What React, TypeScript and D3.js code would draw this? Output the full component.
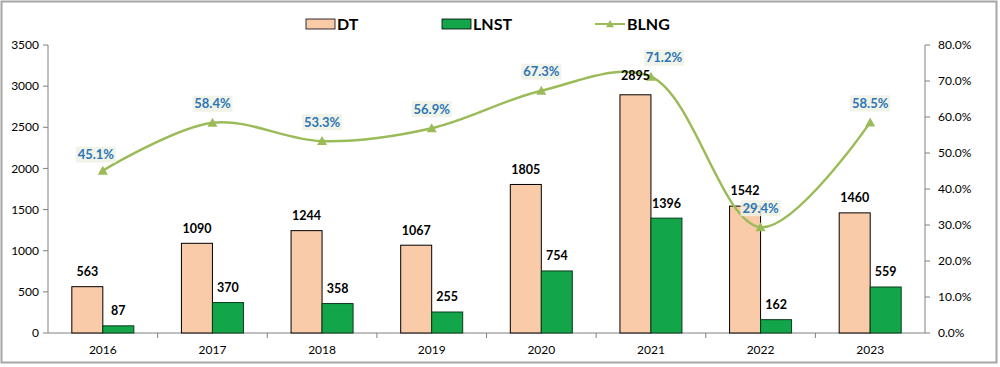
import React from 'react';
import * as d3 from 'd3';

// values
const years = ['2016', '2017', '2018', '2019', '2020', '2021', '2022', '2023'];
const dtValues = [563, 1090, 1244, 1067, 1805, 2895, 1542, 1460];
const lnstValues = [87, 370, 358, 255, 754, 1396, 162, 559];
const blngValues = [45.1, 58.4, 53.3, 56.9, 67.3, 71.2, 29.4, 58.5];
const leftTicks = [0, 500, 1000, 1500, 2000, 2500, 3000, 3500];
const rightTicks = [0, 10, 20, 30, 40, 50, 60, 70, 80];
// small nudges of the percent labels (relative to their points)
const pctLabelDx = [-7, 0, 0, 0, 0, 13, 0, 0];

const W = 1000;
const H = 367;
const margin = { top: 45, right: 75, bottom: 34, left: 48 };
const FONT = 'Lato, "Open Sans", sans-serif';

const DT_COLOR = '#FACBA8';
const LNST_COLOR = '#12A54A';
const LINE_COLOR = '#9BBB59';
const PCT_COLOR = '#2E75B6';

function Triangle({ x, y, size = 5 }: { x: number; y: number; size?: number }) {
  const p = `${x},${y - size} ${x - size},${y + size * 0.8} ${x + size},${y + size * 0.8}`;
  return <polygon points={p} fill={LINE_COLOR} />;
}

export default function App() {
  const x0 = margin.left;
  const x1 = W - margin.right;
  const y0 = H - margin.bottom;
  const y1 = margin.top;

  const x = d3.scaleBand().domain(years).range([x0, x1]);
  const yLeft = d3.scaleLinear().domain([0, 3500]).range([y0, y1]);
  const yRight = d3.scaleLinear().domain([0, 80]).range([y0, y1]);
  const barW = 31;
  const cx = (yr: string) => (x(yr) as number) + x.bandwidth() / 2;

  const line = d3
    .line<number>()
    .x((_, i) => cx(years[i]))
    .y((d) => yRight(d))
    .curve(d3.curveCatmullRom.alpha(0.5));

  return (
    <svg width={W} height={H} style={{ position: 'absolute', left: 0, top: 0, fontFamily: FONT }}>
      <rect x={1.5} y={1.5} width={W - 5} height={H - 6} fill="#fff" stroke="#a6a6a6" strokeWidth={2} />

      {/* legend */}
      <g fontSize={16} fontWeight="bold" fill="#000">
        <rect x={306} y={19} width={29} height={10} fill={DT_COLOR} stroke="#000" strokeWidth={0.8} />
        <text x={337} y={30}>DT</text>
        <rect x={442} y={19} width={29} height={10} fill={LNST_COLOR} stroke="#000" strokeWidth={0.8} />
        <text x={473} y={30}>LNST</text>
        <line x1={595} x2={625} y1={24} y2={24} stroke={LINE_COLOR} strokeWidth={2} />
        <Triangle x={610} y={24} size={4} />
        <text x={627} y={30}>BLNG</text>
      </g>

      {/* left axis */}
      <line x1={x0} x2={x0} y1={y1} y2={y0} stroke="#808080" />
      {leftTicks.map((t) => (
        <g key={t}>
          <line x1={x0 - 5} x2={x0} y1={yLeft(t)} y2={yLeft(t)} stroke="#808080" />
          <text x={x0 - 9} y={yLeft(t)} dy="0.35em" textAnchor="end" fontSize={12} fill="#000">
            {t}
          </text>
        </g>
      ))}

      {/* right axis */}
      <line x1={x1} x2={x1} y1={y1} y2={y0} stroke="#808080" />
      {rightTicks.map((t) => (
        <g key={t}>
          <line x1={x1} x2={x1 + 5} y1={yRight(t)} y2={yRight(t)} stroke="#808080" />
          <text x={x1 + 13} y={yRight(t)} dy="0.35em" fontSize={12} fill="#000">
            {t.toFixed(1)}%
          </text>
        </g>
      ))}

      {/* bottom axis */}
      <line x1={x0} x2={x1} y1={y0} y2={y0} stroke="#808080" />
      {years.map((yr, i) => (
        <g key={yr}>
          {i > 0 && <line x1={x(yr)} x2={x(yr)} y1={y0} y2={y0 + 5} stroke="#808080" />}
          <text x={cx(yr)} y={y0 + 17} dy="0.35em" textAnchor="middle" fontSize={12} fill="#000">
            {yr}
          </text>
        </g>
      ))}

      {/* bars */}
      {years.map((yr, i) => (
        <g key={yr}>
          <rect
            x={cx(yr) - barW}
            y={yLeft(dtValues[i])}
            width={barW}
            height={y0 - yLeft(dtValues[i])}
            fill={DT_COLOR}
            stroke="#000"
            strokeWidth={1}
          />
          <rect
            x={cx(yr)}
            y={yLeft(lnstValues[i])}
            width={barW}
            height={y0 - yLeft(lnstValues[i])}
            fill={LNST_COLOR}
            stroke="#0a3a1a"
            strokeWidth={1}
          />
        </g>
      ))}

      {/* line */}
      <path d={line(blngValues) || ''} fill="none" stroke={LINE_COLOR} strokeWidth={2.5} />
      {blngValues.map((v, i) => (
        <Triangle key={i} x={cx(years[i])} y={yRight(v)} size={5} />
      ))}

      {/* bar labels */}
      <g fontSize={12.5} fontWeight="bold" fill="#000" textAnchor="middle">
        {years.map((yr, i) => (
          <g key={yr}>
            <text x={cx(yr) - barW / 2} y={yLeft(dtValues[i]) - (i === 5 ? 19 : 15)} dy="0.35em">
              {dtValues[i]}
            </text>
            <text x={cx(yr) + barW / 2} y={yLeft(lnstValues[i]) - 15} dy="0.35em">
              {lnstValues[i]}
            </text>
          </g>
        ))}
      </g>

      {/* percent labels */}
      {blngValues.map((v, i) => {
        const lx = cx(years[i]) + pctLabelDx[i];
        const ly = yRight(v) - (i === 0 ? 16 : 19);
        return (
          <g key={i}>
            <rect x={lx - 20} y={ly - 8} width={40} height={16} fill="#EDF1E4" opacity={0.85} />
            <text x={lx} y={ly} dy="0.35em" textAnchor="middle" fontSize={13} fontWeight="bold" fill={PCT_COLOR}>
              {v.toFixed(1)}%
            </text>
          </g>
        );
      })}
    </svg>
  );
}
